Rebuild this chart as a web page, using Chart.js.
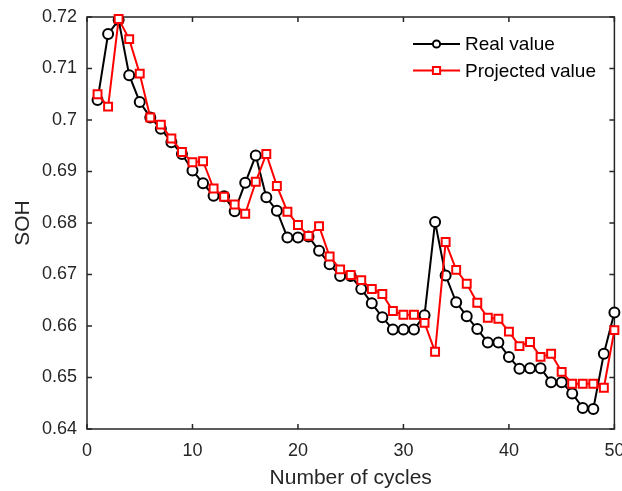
<!DOCTYPE html>
<html>
<head>
<meta charset="utf-8">
<script src="https://cdn.jsdelivr.net/npm/chart.js@4/dist/chart.umd.min.js"></script>
<style>
  html, body { margin: 0; padding: 0; background: #fff; }
  canvas { display: block; }
</style>
</head>
<body>
<canvas id="sohChart" width="622" height="491"></canvas>
<script>
// Data
const cycles = [1, 2, 3, 4, 5, 6, 7, 8, 9, 10, 11, 12, 13, 14, 15, 16, 17, 18, 19, 20,
    21, 22, 23, 24, 25, 26, 27, 28, 29, 30, 31, 32, 33, 34, 35, 36, 37, 38, 39, 40,
    41, 42, 43, 44, 45, 46, 47, 48, 49, 50];

const realSOH = [0.7039, 0.7167, 0.7194, 0.7087, 0.7035, 0.7005, 0.6983, 0.6957, 0.6934, 0.6902,
    0.6877, 0.6853, 0.6852, 0.6823, 0.6878, 0.6931, 0.6850, 0.6824, 0.6772, 0.6772,
    0.6774, 0.6746, 0.6720, 0.6697, 0.6697, 0.6672, 0.6644, 0.6617, 0.6593, 0.6593,
    0.6593, 0.6621, 0.6802, 0.6698, 0.6646, 0.6619, 0.6594, 0.6568, 0.6568, 0.6540,
    0.6517, 0.6518, 0.6518, 0.6491, 0.6491, 0.6469, 0.6441, 0.6439, 0.6546, 0.6626];

const projectedSOH = [0.7050, 0.7026, 0.7196, 0.7157, 0.7090, 0.7005, 0.6991, 0.6964, 0.6938, 0.6918,
    0.6920, 0.6867, 0.6851, 0.6836, 0.6818, 0.6880, 0.6934, 0.6872, 0.6822, 0.6796,
    0.6775, 0.6794, 0.6735, 0.6710, 0.6699, 0.6689, 0.6672, 0.6662, 0.6629, 0.6622,
    0.6622, 0.6606, 0.6550, 0.6763, 0.6709, 0.6682, 0.6645, 0.6616, 0.6614, 0.6589,
    0.6561, 0.6569, 0.6540, 0.6546, 0.6511, 0.6488, 0.6488, 0.6488, 0.6480, 0.6592];

const xTicks = [0, 10, 20, 30, 40, 50];
const yTicks = [0.64, 0.65, 0.66, 0.67, 0.68, 0.69, 0.70, 0.71, 0.72];

const axisColor = '#262626';
const fontFamily = '"Liberation Sans", Arial, Helvetica, sans-serif';

function toPoints(ys) {
    return cycles.map((c, i) => ({ x: c, y: ys[i] }));
}

// Box around the axes with inward ticks, MATLAB style
const framePlugin = {
    id: 'frame',
    beforeDatasetsDraw(chart) {
        const { ctx, chartArea: a, scales } = chart;
        const len = 5;
        ctx.save();
        ctx.strokeStyle = axisColor;
        ctx.lineWidth = 1.5;
        ctx.strokeRect(a.left, a.top, a.right - a.left, a.bottom - a.top);
        ctx.beginPath();
        xTicks.forEach(v => {
            const px = scales.x.getPixelForValue(v);
            ctx.moveTo(px, a.bottom); ctx.lineTo(px, a.bottom - len);
            ctx.moveTo(px, a.top); ctx.lineTo(px, a.top + len);
        });
        yTicks.forEach(v => {
            const py = scales.y.getPixelForValue(v);
            ctx.moveTo(a.left, py); ctx.lineTo(a.left + len, py);
            ctx.moveTo(a.right, py); ctx.lineTo(a.right - len, py);
        });
        ctx.stroke();
        ctx.restore();
    }
};

// Legend with line + marker samples, top right inside the axes
const legendPlugin = {
    id: 'lineLegend',
    afterDraw(chart) {
        const { ctx } = chart;
        const rows = [44, 70.5];
        const x0 = 413, x1 = 460, xm = 436.5;
        ctx.save();
        chart.data.datasets.forEach((ds, i) => {
            const y = rows[i];
            ctx.strokeStyle = ds.borderColor;
            ctx.lineWidth = 2;
            ctx.beginPath();
            ctx.moveTo(x0, y); ctx.lineTo(x1, y);
            ctx.stroke();
            ctx.fillStyle = '#fff';
            ctx.beginPath();
            if (ds.pointStyle === 'circle') {
                ctx.arc(xm, y, 3.6, 0, Math.PI * 2);
            } else {
                ctx.rect(xm - 3.6, y - 3.6, 7.2, 7.2);
            }
            ctx.fill();
            ctx.stroke();
            ctx.fillStyle = '#000';
            ctx.font = '19px ' + fontFamily;
            ctx.textBaseline = 'middle';
            ctx.textAlign = 'left';
            ctx.fillText(ds.label, 465, y + 1);
        });
        ctx.restore();
    }
};

const ctx = document.getElementById('sohChart').getContext('2d');
const sohChart = new Chart(ctx, {
    type: 'line',
    data: {
        datasets: [
            {
                label: 'Real value',
                data: toPoints(realSOH),
                borderColor: '#000000',
                backgroundColor: '#000000',
                borderWidth: 2,
                pointStyle: 'circle',
                pointRadius: 5,
                pointBorderWidth: 2,
                pointBackgroundColor: '#ffffff',
                pointBorderColor: '#000000',
                tension: 0,
                clip: false,
                order: 1
            },
            {
                label: 'Projected value',
                data: toPoints(projectedSOH),
                borderColor: '#ff0000',
                backgroundColor: '#ff0000',
                borderWidth: 2,
                pointStyle: 'rect',
                pointRadius: 5.6,
                pointBorderWidth: 2,
                pointBackgroundColor: '#ffffff',
                pointBorderColor: '#ff0000',
                tension: 0,
                clip: false,
                order: 0
            }
        ]
    },
    options: {
        responsive: false,
        animation: false,
        events: [],
        layout: {
            padding: { left: 0, top: 17, right: 7, bottom: 0 }
        },
        plugins: {
            legend: { display: false },
            tooltip: { enabled: false }
        },
        scales: {
            x: {
                type: 'linear',
                min: 0,
                max: 50,
                grid: { display: false, drawTicks: false },
                border: { display: false },
                afterBuildTicks: function(scale) {
                    scale.ticks = xTicks.map(v => ({ value: v }));
                },
                afterFit: function(scale) {
                    scale.height = 62;
                    scale.paddingLeft = 0;
                    scale.paddingRight = 0;
                },
                ticks: {
                    color: axisColor,
                    padding: 11,
                    maxRotation: 0,
                    font: { family: fontFamily, size: 18 }
                },
                title: {
                    display: true,
                    text: 'Number of cycles',
                    color: axisColor,
                    padding: { top: 0, bottom: 0 },
                    font: { family: fontFamily, size: 21 }
                }
            },
            y: {
                type: 'linear',
                min: 0.64,
                max: 0.72,
                grid: { display: false, drawTicks: false },
                border: { display: false },
                afterBuildTicks: function(scale) {
                    scale.ticks = yTicks.map(v => ({ value: v }));
                },
                afterFit: function(scale) {
                    scale.width = 87;
                    scale.paddingTop = 0;
                    scale.paddingBottom = 0;
                },
                ticks: {
                    color: axisColor,
                    padding: 10,
                    font: { family: fontFamily, size: 18 },
                    callback: function(value) {
                        return String(+value.toFixed(2));
                    }
                },
                title: {
                    display: true,
                    text: 'SOH',
                    color: axisColor,
                    padding: { top: 11, bottom: 0 },
                    font: { family: fontFamily, size: 21 }
                }
            }
        }
    },
    plugins: [framePlugin, legendPlugin]
});
</script>
</body>
</html>
